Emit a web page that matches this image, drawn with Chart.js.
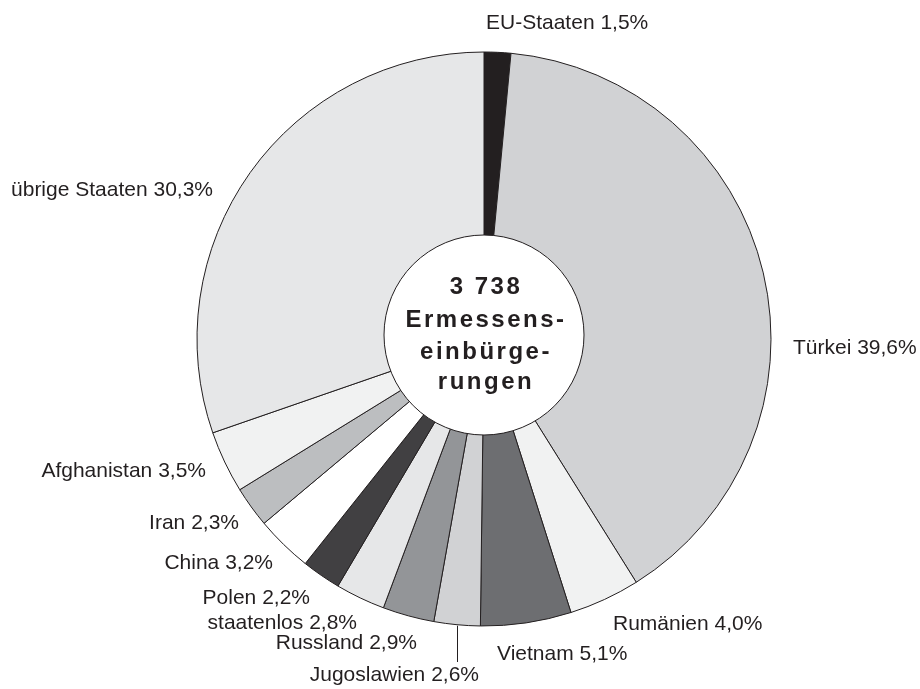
<!DOCTYPE html>
<html>
<head>
<meta charset="utf-8">
<script src="https://cdn.jsdelivr.net/npm/chart.js@4.4.0/dist/chart.umd.min.js"></script>
<style>
  body { margin: 0; background: #fff; }
  #wrap { width: 920px; height: 689px; }
</style>
</head>
<body>
<div id="wrap"><canvas id="myChart" width="920" height="689"></canvas></div>
<script>
const categories = ["EU-Staaten", "Türkei", "Rumänien", "Vietnam", "Jugoslawien", "Russland",
  "staatenlos", "Polen", "China", "Iran", "Afghanistan", "übrige Staaten"];
const shares = [1.5, 39.6, 4.0, 5.1, 2.6, 2.9, 2.8, 2.2, 3.2, 2.3, 3.5, 30.3];
const centerLines = ["3 738", "Ermessens-", "einbürge-", "rungen"];

const sliceColors = ["#231f20", "#d1d2d4", "#f1f2f2", "#6d6e71", "#d1d2d4", "#939598",
  "#e6e7e8", "#414042", "#ffffff", "#bcbec0", "#f1f2f2", "#e6e7e8"];

// label placement relative to the pie centre (layout only)
const labelPos = [
  { dx: 2, dy: -316, align: "left" },
  { dx: 309, dy: 9, align: "left" },
  { dx: 129, dy: 285, align: "left" },
  { dx: 13, dy: 315, align: "left" },
  { dx: -5, dy: 336, align: "right", leader: true },
  { dx: -67, dy: 304, align: "right" },
  { dx: -127, dy: 284, align: "right" },
  { dx: -174, dy: 259, align: "right" },
  { dx: -211, dy: 224, align: "right" },
  { dx: -245, dy: 184, align: "right" },
  { dx: -278, dy: 132, align: "right" },
  { dx: -271, dy: -149, align: "right" }
];

const ink = "#231f20";
const fontName = "'Liberation Sans', Arial, Helvetica, sans-serif";

const fmt = (v) => v.toFixed(1).replace(".", ",") + "%";

const labelsPlugin = {
  id: "pieLabels",
  afterDatasetsDraw(chart) {
    const ctx = chart.ctx;
    const arcs = chart.getDatasetMeta(0).data;
    const cx = arcs[0].x;
    const cy = arcs[0].y;
    const R = arcs[0].outerRadius;

    // white centre disc
    ctx.save();
    ctx.beginPath();
    ctx.arc(cx, cy - 4, 100, 0, Math.PI * 2);
    ctx.fillStyle = "#ffffff";
    ctx.fill();
    ctx.lineWidth = 1;
    ctx.strokeStyle = ink;
    ctx.stroke();

    ctx.fillStyle = ink;
    ctx.font = "bold 24px " + fontName;
    ctx.textAlign = "center";
    ctx.textBaseline = "alphabetic";
    if ("letterSpacing" in ctx) ctx.letterSpacing = "2.5px";
    const baseY = [-45, -12, 20, 50];
    centerLines.forEach((t, i) => {
      ctx.fillText(t, cx + 2, cy + baseY[i]);
    });
    if ("letterSpacing" in ctx) ctx.letterSpacing = "0px";

    // outside labels
    ctx.font = "21px " + fontName;
    ctx.textBaseline = "middle";
    categories.forEach((name, i) => {
      const p = labelPos[i];
      ctx.textAlign = p.align;
      ctx.fillText(name + " " + fmt(shares[i]), cx + p.dx, cy + p.dy);
      if (p.leader) {
        const a = arcs[i];
        const mid = (a.startAngle + a.endAngle) / 2;
        const x = cx + Math.cos(mid) * R;
        const y = cy + Math.sin(mid) * R;
        ctx.beginPath();
        ctx.moveTo(Math.round(x) + 0.5, y + 1);
        ctx.lineTo(Math.round(x) + 0.5, cy + p.dy - 13);
        ctx.lineWidth = 1;
        ctx.strokeStyle = ink;
        ctx.stroke();
      }
    });
    ctx.restore();
  }
};

new Chart(document.getElementById("myChart"), {
  type: "doughnut",
  data: {
    labels: categories,
    datasets: [{
      data: shares,
      backgroundColor: sliceColors,
      borderColor: ink,
      borderWidth: 1,
      radius: 287
    }]
  },
  options: {
    responsive: false,
    animation: false,
    cutout: "31%",
    layout: { padding: { left: 48, right: 0, top: 0, bottom: 11 } },
    plugins: {
      legend: { display: false },
      tooltip: { enabled: false }
    }
  },
  plugins: [labelsPlugin]
});
</script>
</body>
</html>
